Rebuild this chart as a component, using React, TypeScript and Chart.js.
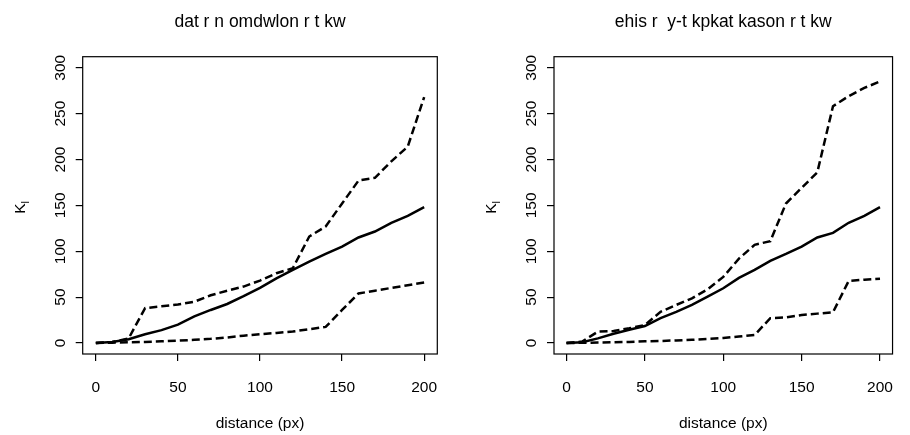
import React, { useEffect, useRef } from "react";
import { Chart, registerables } from "chart.js";

Chart.register(...registerables);

// distances (px)
const distances = [0, 10, 20, 30, 40, 50, 60, 70, 80, 90, 100, 110, 120, 130, 140, 150, 160, 170, 180, 190, 200];

// left panel
const titleLeft = "dat r n omdwlon r t kw";
const obsLeft = [0, 1.2, 4, 9.5, 14, 20, 29, 36, 42.5, 51, 60, 70.5, 79.6, 88.7, 97, 105, 115, 121.5, 131, 138.5, 148];
const upperLeft = [0, 1, 5, 38, 40, 42, 45, 52, 57, 61.5, 68, 76, 81.5, 116, 127, 152, 177, 180, 198, 214, 268];
const lowerLeft = [0, 0.3, 0.8, 1.2, 1.8, 2.5, 3.5, 4.5, 6, 8, 9.5, 11, 12.5, 15, 17.5, 36, 54, 57, 60, 63, 66];

// right panel
const titleRight = "ehis r  y-t kpkat kason r t kw";
const obsRight = [0, 0.8, 5, 10, 14.5, 18.5, 27, 34, 41.5, 50.5, 59.6, 71, 79.6, 89.5, 97, 105, 115, 120, 131, 138.5, 148];
const upperRight = [0, 1.5, 12.4, 13, 16, 19.6, 34, 41.5, 48.7, 58.5, 72, 92, 107, 111, 152, 169, 186, 258, 269, 278, 285];
const lowerRight = [0, 0.2, 0.5, 0.8, 1.2, 1.8, 2.2, 2.8, 3.5, 4.5, 5.5, 7, 8.7, 27, 28, 30.5, 32, 33.5, 67.6, 69, 70];

const xTicks = [0, 50, 100, 150, 200];
const yTicks = [0, 50, 100, 150, 200, 250, 300];
const xLabel = "distance (px)";

const FONT = '"Liberation Sans", Arial, Helvetica, sans-serif';

type PanelProps = {
  title: string;
  obs: number[];
  upper: number[];
  lower: number[];
  canvasLeft: number;
  yWidth: number;
  padRight: number;
};

function Panel({ title, obs, upper, lower, canvasLeft, yWidth, padRight }: PanelProps) {
  const ref = useRef<HTMLCanvasElement | null>(null);

  useEffect(() => {
    const canvas = ref.current;
    if (!canvas) return;
    const pts = (arr: number[]) => arr.map((v, i) => ({ x: distances[i], y: v }));

    const decor = {
      id: "rdecor",
      afterDraw(chart: any) {
        const ctx = chart.ctx as CanvasRenderingContext2D;
        const { left, right, top, bottom } = chart.chartArea;
        const cx = (left + right) / 2;
        const cy = (top + bottom) / 2;
        ctx.save();
        // box
        ctx.strokeStyle = "#000";
        ctx.lineWidth = 1.2;
        ctx.strokeRect(left, top, right - left, bottom - top);
        // main title
        ctx.fillStyle = "#000";
        ctx.font = `17.5px ${FONT}`;
        ctx.textAlign = "center";
        ctx.textBaseline = "alphabetic";
        ctx.fillText(title, cx, 26.7);
        // x label
        ctx.font = `15.5px ${FONT}`;
        ctx.fillText(xLabel, cx, 428);
        // y label K_l
        ctx.translate(left - 58, cy + 2);
        ctx.rotate(-Math.PI / 2);
        ctx.textAlign = "left";
        ctx.font = `15.5px ${FONT}`;
        const kw = ctx.measureText("K").width;
        ctx.font = `11px ${FONT}`;
        const lw = ctx.measureText("l").width;
        const start = -(kw + lw) / 2;
        ctx.font = `15.5px ${FONT}`;
        ctx.fillText("K", start, 0);
        ctx.font = `11px ${FONT}`;
        ctx.fillText("l", start + kw, 4);
        ctx.restore();
      },
    };

    const chart = new Chart(canvas, {
      type: "line",
      data: {
        datasets: [
          {
            data: pts(upper),
            borderColor: "#000",
            borderWidth: 2.5,
            borderDash: [8, 4],
            pointRadius: 0,
            tension: 0,
            fill: false,
          },
          {
            data: pts(obs),
            borderColor: "#000",
            borderWidth: 2.5,
            pointRadius: 0,
            tension: 0,
            fill: false,
          },
          {
            data: pts(lower),
            borderColor: "#000",
            borderWidth: 2.5,
            borderDash: [8, 4],
            pointRadius: 0,
            tension: 0,
            fill: false,
          },
        ],
      },
      options: {
        responsive: false,
        animation: false,
        events: [],
        devicePixelRatio: 1,
        layout: { padding: { top: 56.7, right: padRight, left: 0, bottom: 0 } },
        plugins: { legend: { display: false }, tooltip: { enabled: false }, title: { display: false } },
        scales: {
          x: {
            type: "linear",
            position: "bottom",
            min: -8,
            max: 208,
            afterBuildTicks: (scale: any) => {
              scale.ticks = xTicks.map((v) => ({ value: v }));
            },
            afterFit: (scale: any) => {
              scale.height = 81;
            },
            grid: { drawOnChartArea: false, drawTicks: true, tickLength: 7, color: "#000", lineWidth: 1.2 },
            border: { display: false },
            ticks: { color: "#000", font: { family: FONT, size: 15.5 }, padding: 17, maxRotation: 0, autoSkip: false },
          },
          y: {
            type: "linear",
            position: "left",
            min: -12,
            max: 312,
            afterBuildTicks: (scale: any) => {
              scale.ticks = yTicks.map((v) => ({ value: v }));
            },
            afterFit: (scale: any) => {
              scale.width = yWidth;
            },
            grid: { drawOnChartArea: false, drawTicks: true, tickLength: 7, color: "#000", lineWidth: 1.2 },
            border: { display: false },
            ticks: {
              color: "#000",
              font: { family: FONT, size: 15.5 },
              minRotation: 90,
              maxRotation: 90,
              crossAlign: "center",
              padding: 2,
              autoSkip: false,
            },
          },
        },
      },
      plugins: [decor],
    } as any);

    return () => chart.destroy();
  }, [title, obs, upper, lower, yWidth, padRight]);

  return (
    <canvas
      ref={ref}
      width={455}
      height={435}
      style={{ position: "absolute", left: canvasLeft, top: 0, width: 455, height: 435, display: "block" }}
    />
  );
}

export default function App() {
  return (
    <div style={{ position: "absolute", left: 0, top: 0, width: 910, height: 435, background: "#fff", overflow: "hidden" }}>
      <Panel title={titleLeft} obs={obsLeft} upper={upperLeft} lower={lowerLeft} canvasLeft={0} yWidth={82.7} padRight={17.7} />
      <Panel title={titleRight} obs={obsRight} upper={upperRight} lower={lowerRight} canvasLeft={455} yWidth={99} padRight={1.7} />
    </div>
  );
}
